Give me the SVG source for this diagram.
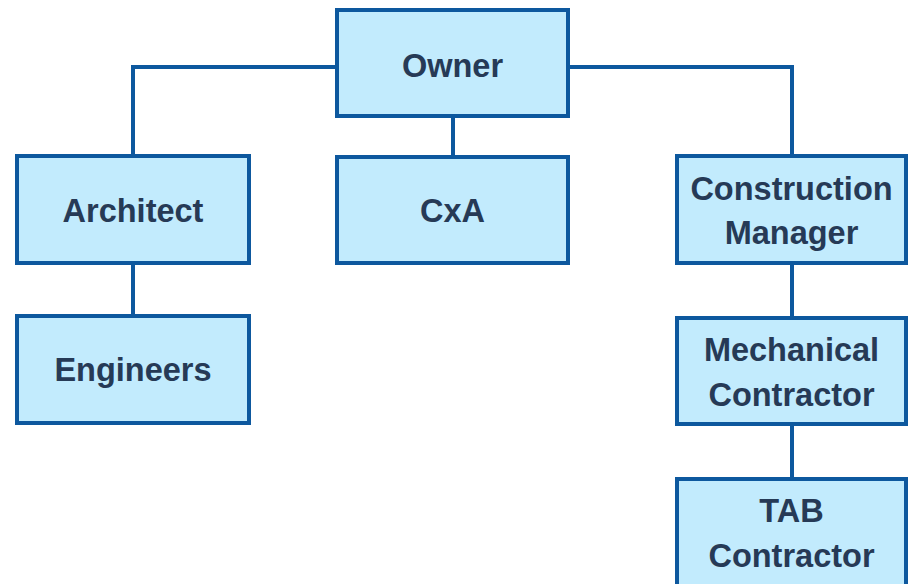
<svg xmlns="http://www.w3.org/2000/svg" width="909" height="584" viewBox="0 0 909 584">
  <style>
    .box { fill: #C2EBFD; stroke: #0D589E; stroke-width: 4; }
    .link { fill: none; stroke: #0D589E; stroke-width: 4; }
    .label { font-family: "Liberation Sans", Arial, sans-serif; font-weight: bold; font-size: 32.5px; fill: #263A56; text-anchor: middle; }
  </style>
  <rect width="909" height="584" fill="#FFFFFF"/>

  <g id="connectors">
    <polyline class="link" points="337,67 133,67 133,156"/>
    <polyline class="link" points="568,67 792,67 792,156"/>
    <line class="link" x1="453" y1="116" x2="453" y2="157"/>
    <line class="link" x1="133" y1="263" x2="133" y2="316"/>
    <line class="link" x1="792" y1="263" x2="792" y2="318"/>
    <line class="link" x1="792" y1="424" x2="792" y2="479"/>
  </g>

  <g id="owner">
    <rect class="box" x="337" y="10" width="231" height="106"/>
    <text class="label" x="452.5" y="77">Owner</text>
  </g>

  <g id="architect">
    <rect class="box" x="17" y="156" width="232" height="107"/>
    <text class="label" x="133" y="222">Architect</text>
  </g>

  <g id="cxa">
    <rect class="box" x="337" y="157" width="231" height="106"/>
    <text class="label" x="452.5" y="222">CxA</text>
  </g>

  <g id="construction-manager">
    <rect class="box" x="677" y="156" width="229" height="107"/>
    <text class="label" x="791.5" y="200">Construction</text>
    <text class="label" x="791.5" y="244">Manager</text>
  </g>

  <g id="engineers">
    <rect class="box" x="17" y="316" width="232" height="107"/>
    <text class="label" x="133" y="381">Engineers</text>
  </g>

  <g id="mechanical-contractor">
    <rect class="box" x="677" y="318" width="229" height="106"/>
    <text class="label" x="791.5" y="361">Mechanical</text>
    <text class="label" x="791.5" y="406">Contractor</text>
  </g>

  <g id="tab-contractor">
    <rect class="box" x="677" y="479" width="229" height="120"/>
    <text class="label" x="791.5" y="522">TAB</text>
    <text class="label" x="791.5" y="567">Contractor</text>
  </g>
</svg>
